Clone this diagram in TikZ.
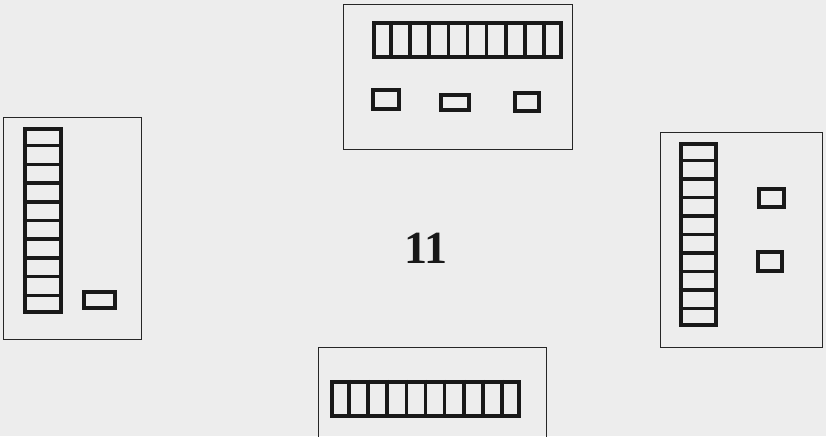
\documentclass[tikz,border=0pt]{standalone}
\usepackage{fontspec}
\setmainfont{Liberation Serif}
\usetikzlibrary{positioning, calc}

\tikzset{
  panel/.style={draw=black!85, line width=1.6pt, inner sep=0pt},
  bar/.style={draw=black!90, line width=4.2pt, inner sep=0pt},
  keybox/.style={draw=black!90, line width=4pt, inner sep=0pt},
  cell/.style={line width=3.6pt, draw=black!90},
}

\begin{document}
\begin{tikzpicture}[x=1pt, y=-1pt]
  \fill[black!7] (0,0) rectangle (826,436);
  \useasboundingbox (0,0) rectangle (826,436);

  % top panel
  \node[panel, minimum width=229pt, minimum height=145pt] (top) at (458,77) {};
  \node[bar, minimum width=187pt, minimum height=34pt] (tbar) at (467.5,40) {};
  \node[keybox, minimum width=26pt, minimum height=19pt] (tk1) at (386,99.5) {};
  \node[keybox, minimum width=28pt, minimum height=15pt] (tk2) at (455,102.5) {};
  \node[keybox, minimum width=24pt, minimum height=18pt] (tk3) at (527,102) {};

  % left panel
  \node[panel, minimum width=138pt, minimum height=222pt] (left) at (72.5,228.5) {};
  \node[bar, minimum width=36pt, minimum height=183pt] (lbar) at (43,220.5) {};
  \node[keybox, minimum width=31pt, minimum height=16pt] (lk1) at (99.5,300) {};

  % right panel
  \node[panel, minimum width=162pt, minimum height=215pt] (right) at (741.5,240) {};
  \node[bar, minimum width=35pt, minimum height=181pt] (rbar) at (698.5,234.5) {};
  \node[keybox, minimum width=25pt, minimum height=18pt] (rk1) at (771.5,198) {};
  \node[keybox, minimum width=24pt, minimum height=19pt] (rk2) at (770,261.5) {};

  % bottom panel
  \node[panel, minimum width=228pt, minimum height=92pt] (bottom) at (432.5,393.5) {};
  \node[bar, minimum width=187pt, minimum height=34pt] (bbar) at (425.5,399) {};

  % cells
  \foreach \i in {1,...,9} {
    \draw[cell]
      ($(tbar.north west)!\i/10!(tbar.north east)$) -- ($(tbar.south west)!\i/10!(tbar.south east)$);
    \draw[cell]
      ($(bbar.north west)!\i/10!(bbar.north east)$) -- ($(bbar.south west)!\i/10!(bbar.south east)$);
    \draw[cell]
      ($(lbar.north west)!\i/10!(lbar.south west)$) -- ($(lbar.north east)!\i/10!(lbar.south east)$);
    \draw[cell]
      ($(rbar.north west)!\i/10!(rbar.south west)$) -- ($(rbar.north east)!\i/10!(rbar.south east)$);
  }

  \node[font=\fontsize{46}{50}\selectfont\bfseries, text=black!90] (num) at (426,248) {11};
\end{tikzpicture}
\end{document}
